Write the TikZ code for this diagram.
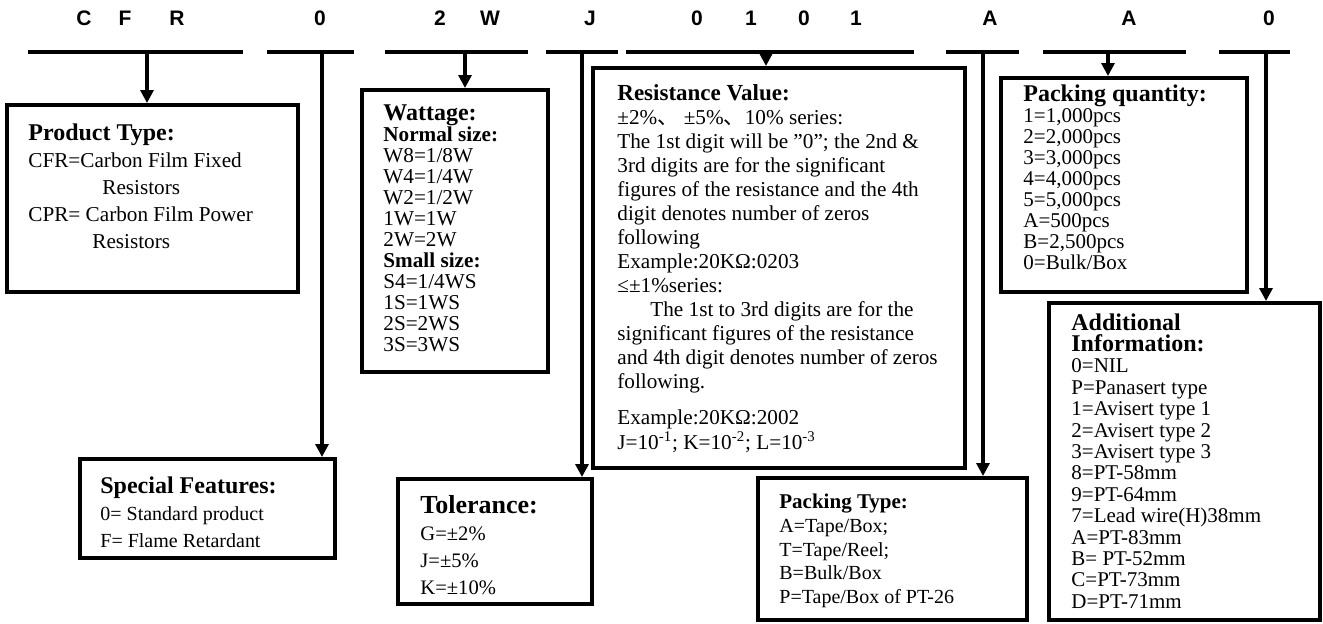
\documentclass[tikz,border=0pt]{standalone}
\usepackage{fontspec}
\setmainfont{Liberation Serif}
\setsansfont{Liberation Sans}
\newfontfamily\cjkfont{Noto Sans CJK SC}
\usetikzlibrary{arrows.meta, fit}

\begin{document}
\begin{tikzpicture}[
    x=0.5pt, y=-0.5pt,
    digit/.style={font=\sffamily\bfseries\fontsize{10.5}{10.5}\selectfont, inner sep=0pt},
    groupbar/.style={line width=2pt},
    panel/.style={draw, line width=2pt, inner sep=0pt},
    entry/.style={anchor=north west, inner sep=0pt, align=left},
    feed/.style={line width=1.6pt, -{Triangle[width=6.5pt, length=6.5pt]}}
  ]
  \useasboundingbox (0,0) rectangle (1323,623);

  % part number letters
  \foreach \ch/\px [count=\i] in {C/84, F/125, R/177, 0/320, 2/440, W/490, J/590, 0/697, 1/751, 0/804, 1/856, A/990, A/1129, 0/1269}
    \node[digit] (ch\i) at (\px,18) {\ch};

  % bars under each group
  \foreach \xa/\xb in {28/243, 267/354, 385/528, 546/618, 626/914, 946/1019, 1043/1186, 1219/1290}
    \draw[groupbar] (\xa,52) -- (\xb,52);

  % drop points on the bars
  \foreach \px [count=\i] in {147, 322, 465, 582, 766, 983, 1108, 1266}
    \coordinate (drop\i) at (\px,52);

  % boxes
  \node[panel, fit={(7,105) (298,292)}] (prodtype) {};
  \node[panel, fit={(80,459) (335,558)}] (special) {};
  \node[panel, fit={(362,90) (548,372)}] (wattage) {};
  \node[panel, fit={(398,479) (592,604)}] (tolerance) {};
  \node[panel, fit={(593,68) (965,468)}] (resvalue) {};
  \node[panel, fit={(758,478) (1027,620)}] (packtype) {};
  \node[panel, fit={(1001,78) (1247,292)}] (packqty) {};
  \node[panel, fit={(1049,303) (1320,620)}] (addinfo) {};

  % box texts
  \node[entry, font=\fontsize{10.6}{13.5}\selectfont] (prodtxt) at (28,123)
    {{\bfseries\fontsize{12}{13.5}\selectfont Product Type:}\\
     CFR=Carbon Film Fixed\\
     \hspace*{37pt}Resistors\\
     CPR= Carbon Film Power\\
     \hspace*{32pt}Resistors};

  \node[entry, font=\fontsize{10}{13.5}\selectfont] (specialtxt) at (100,476)
    {{\bfseries\fontsize{12}{13.5}\selectfont Special Features:}\\
     0= Standard product\\
     F= Flame Retardant};

  \node[entry, font=\fontsize{10.6}{10.5}\selectfont] (wattagetxt) at (383,104)
    {{\bfseries\fontsize{12}{10.5}\selectfont Wattage:}\\
     {\bfseries Normal size:}\\
     W8=1/8W\\
     W4=1/4W\\
     W2=1/2W\\
     1W=1W\\
     2W=2W\\
     {\bfseries Small size:}\\
     S4=1/4WS\\
     1S=1WS\\
     2S=2WS\\
     3S=3WS};

  \node[entry, font=\fontsize{10.3}{13.5}\selectfont] (tolerancetxt) at (420,495)
    {{\bfseries\fontsize{13}{13.5}\selectfont Tolerance:}\\
     G=±2\%\\
     J=±5\%\\
     K=±10\%};

  \node[entry, font=\fontsize{10.6}{12}\selectfont] (resvaluetxt) at (617,84)
    {{\bfseries\fontsize{11.5}{12}\selectfont Resistance Value:}\\
     ±2\%{\cjkfont 、} ±5\%{\cjkfont 、}10\% series:\\
     The 1st digit will be ”0”; the 2nd \&\\
     3rd digits are for the significant\\
     figures of the resistance and the 4th\\
     digit denotes number of zeros\\
     following\\
     Example:20KΩ:0203\\
     ≤±1\%series:\\
     \hspace*{16.5pt}The 1st to 3rd digits are for the\\
     significant figures of the resistance\\
     and 4th digit denotes number of zeros\\
     following.\\[6pt]
     Example:20KΩ:2002\\[0.5pt]
     J=10\textsuperscript{-1}; K=10\textsuperscript{-2}; L=10\textsuperscript{-3}};

  \node[entry, font=\fontsize{10}{11.8}\selectfont] (packtypetxt) at (779,494)
    {{\bfseries\fontsize{10.5}{11.8}\selectfont Packing Type:}\\
     A=Tape/Box;\\
     T=Tape/Reel;\\
     B=Bulk/Box\\
     P=Tape/Box of PT-26};

  \node[entry, font=\fontsize{10.5}{10.5}\selectfont] (packqtytxt) at (1023,84)
    {{\bfseries\fontsize{12}{10.5}\selectfont Packing quantity:}\\
     1=1,000pcs\\
     2=2,000pcs\\
     3=3,000pcs\\
     4=4,000pcs\\
     5=5,000pcs\\
     A=500pcs\\
     B=2,500pcs\\
     0=Bulk/Box};

  \node[entry, font=\fontsize{10.5}{10.7}\selectfont] (addinfotxt) at (1071,313)
    {{\bfseries\fontsize{12}{10.7}\selectfont Additional}\\
     {\bfseries\fontsize{12}{10.7}\selectfont Information:}\\
     0=NIL\\
     P=Panasert type\\
     1=Avisert type 1\\
     2=Avisert type 2\\
     3=Avisert type 3\\
     8=PT-58mm\\
     9=PT-64mm\\
     7=Lead wire(H)38mm\\
     A=PT-83mm\\
     B= PT-52mm\\
     C=PT-73mm\\
     D=PT-71mm};

  % connectors
  \draw[feed] (drop1) -- (drop1 |- prodtype.north);
  \draw[feed] (drop2) -- (drop2 |- special.north);
  \draw[feed] (drop3) -- (drop3 |- wattage.north);
  \draw[feed] (drop4) -- (drop4 |- tolerance.north);
  \draw[feed] (drop5) -- (drop5 |- resvalue.north);
  \draw[feed] (drop6) -- (drop6 |- packtype.north);
  \draw[feed] (drop7) -- (drop7 |- packqty.north);
  \draw[feed] (drop8) -- (drop8 |- addinfo.north);

\end{tikzpicture}
\end{document}
